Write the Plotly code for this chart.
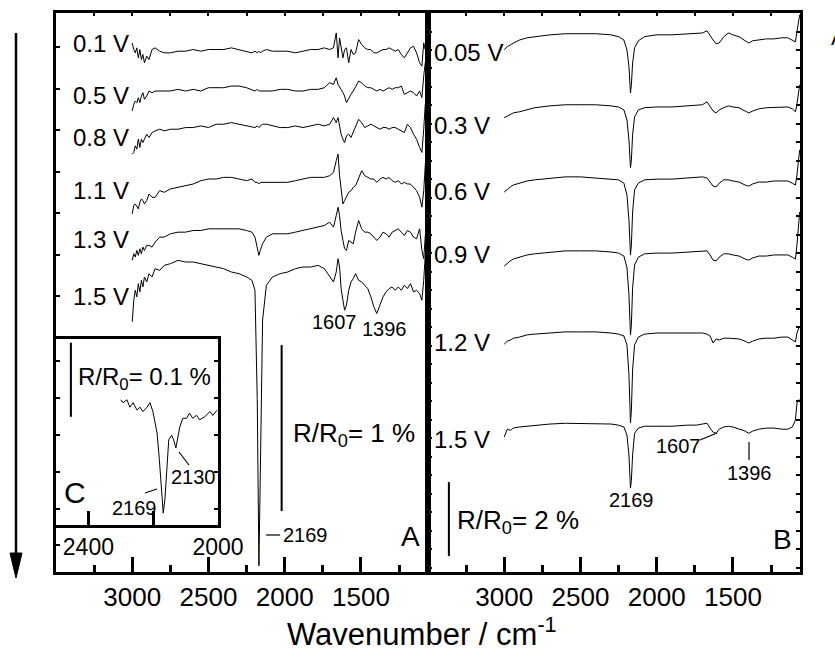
import plotly.graph_objects as go

W, H = 835, 668
FONT = "Liberation Sans, Arial, sans-serif"

# ---------------- data ----------------
# wavenumbers (cm-1)
WN_A = [3000, 2990, 2980, 2970, 2960, 2950, 2940, 2930, 2920, 2905,
        2890, 2870, 2850, 2820, 2790, 2750, 2700, 2650, 2600, 2550,
        2500, 2450, 2400, 2350, 2300, 2250, 2215, 2195, 2180, 2169,
        2160, 2145, 2120, 2080, 2030, 1980, 1930, 1880, 1830, 1780,
        1740, 1705, 1680, 1662, 1650, 1640, 1630, 1618, 1607, 1595,
        1580, 1565, 1550, 1535, 1515, 1495, 1475, 1455, 1435, 1415,
        1396, 1375, 1355, 1335, 1315, 1295, 1275, 1255, 1235, 1215,
        1195, 1175, 1155, 1135, 1115, 1100, 1088, 1078, 1068, 1062]

WN_B = [3000, 2980, 2960, 2940, 2900, 2850, 2800, 2700, 2600, 2500,
        2400, 2300, 2250, 2215, 2195, 2182, 2172, 2166, 2158, 2145,
        2120, 2080, 2000, 1900, 1800, 1740, 1700, 1670, 1650, 1630,
        1610, 1590, 1560, 1530, 1500, 1460, 1420, 1396, 1370, 1330,
        1280, 1230, 1180, 1140, 1110, 1090, 1080, 1070, 1062]

WN_C = [2300, 2293, 2281, 2272, 2262, 2250, 2241, 2232, 2219, 2210,
        2201, 2188, 2181, 2174, 2169, 2164, 2158, 2152, 2143, 2137,
        2130, 2125, 2118, 2109, 2097, 2088, 2078, 2066, 2057, 2041,
        2025, 2016, 2003]

POT_A = ["0.1 V", "0.5 V", "0.8 V", "1.1 V", "1.3 V", "1.5 V"]
POT_B = ["0.05 V", "0.3 V", "0.6 V", "0.9 V", "1.2 V", "1.5 V"]

# Delta R/R0 in units of 0.01 %
A_01 = [5, 1, -1, 2, -4, 1, -5, -2, -7, -3,
        -5, 1, 2, 0, -1, -1, 0, 0, 1, 0,
        1, 1, 1, 2, 1, 0, -1, 0, -1, 0,
        -1, 0, 1, 0, 0, 0, -1, 0, 1, 1,
        2, 1, 2, 11, -4, 8, 1, -4, 1, 2,
        -7, 1, -2, -1, 7, 4, 2, 1, 1, -1,
        -1, 0, 1, 1, 2, 1, 0, 1, -2, -4,
        -1, 2, 3, -1, -7, -9, 5, 1, 7, 9]
A_05 = [-13, -9, -7, -8, -5, -8, -4, -2, -6, -4,
        -1, -2, -1, -1, -1, -1, 0, -1, 0, -1,
        1, 1, 1, 2, 2, 1, 0, -1, 0, -1,
        -1, -1, -1, -1, 0, 0, -1, -1, 0, 0,
        1, 4, 3, 7, 3, 1, 0, -2, -4, -8,
        -5, -3, -1, 2, 5, 4, 2, 1, 1, 0,
        -1, 0, -1, 0, 1, 0, 1, 1, 2, -3,
        -2, -1, -2, -4, -1, -5, 8, 16, 20, 22]
A_08 = [-17, -16, -12, -14, -8, -13, -8, -10, -8, -5,
        -7, -4, -3, -2, -3, -2, -2, -1, -1, 0,
        -1, 1, 1, 2, 1, 0, -1, -1, 0, -1,
        0, 1, 1, 0, -1, -1, 0, -1, 0, 1,
        0, 1, 5, 2, 5, -1, -5, -8, -10, -6,
        -5, -7, -4, -1, 4, 2, -1, 0, 1, 0,
        -1, -2, -1, -1, -2, -1, -1, -2, -3, -4,
        1, -1, -5, -8, -13, -16, -2, 13, 19, 20]
A_11 = [-20, -15, -14, -16, -17, -13, -11, -12, -14, -12,
        -8, -10, -10, -6, -7, -5, -4, -3, -2, 0,
        1, 1, 2, 2, 1, 0, 1, -1, -1, -2,
        -1, -1, -1, -1, -1, -1, 0, 1, 2, 2,
        2, 3, 5, 12, 16, 3, -6, -14, -12, -10,
        -7, -6, -4, -3, 1, 6, 3, 2, 1, 1,
        -1, 1, 2, 1, 2, 0, -1, 0, -2, -1,
        -2, -2, -4, -6, -10, -16, -6, 12, 24, 27]
A_13 = [-18, -14, -16, -12, -15, -11, -14, -10, -12, -9,
        -9, -10, -7, -4, -4, -2, -1, -1, 0, 0,
        1, 1, 1, 1, 1, 0, -1, -4, -11, -15,
        -12, -8, -4, -2, -2, -2, -1, 0, 1, 2,
        3, 5, 2, 9, 14, 9, 0, -6, -11, -12,
        -6, -7, -8, -1, 6, 1, -1, -1, -2, -4,
        -6, -4, -1, -2, -4, -1, 0, 1, -1, -3,
        0, -1, -4, -5, 1, -12, -17, -3, 12, 18]
A_15 = [-34, -21, -15, -19, -11, -16, -9, -13, -7, -10,
        -5, -7, -2, -3, 0, 1, 3, 2, 2, 1,
        0, -1, -2, -4, -5, -7, -9, -15, -81, -181,
        -129, -33, -12, -7, -5, -4, -2, -1, -1, 0,
        -2, -7, -10, -4, 4, -1, -14, -21, -27, -24,
        -15, -10, -8, -5, -9, -10, -12, -14, -19, -25,
        -29, -24, -19, -16, -14, -13, -15, -13, -15, -12,
        -14, -11, -16, -15, -17, -21, -9, 6, 18, 22]
SPEC_A = [A_01, A_05, A_08, A_11, A_13, A_15]
OFFSET_A = [-23, -46, -68, -101, -131, -152]

B_005 = [-40, -32, -27, -22, -14, -8, -5, 0, 3, 3,
         3, 0, -5, -14, -41, -86, -157, -135, -76, -35,
         -16, -5, 0, 0, 3, 3, 5, 11, -3, -14,
         -24, -22, -5, 5, 0, -5, -16, -22, -16, -14,
         -11, -11, -8, -8, -14, -19, 8, 35, 54]
B_03 = [-32, -27, -24, -19, -16, -11, -5, 0, 3, 3,
        3, 0, -3, -11, -38, -92, -167, -146, -78, -30,
        -11, -5, -3, -3, 0, 0, 3, 11, 0, -14,
        -19, -11, -5, 0, -3, -5, -14, -19, -14, -8,
        -5, -5, -3, -3, -8, -16, 5, 38, 57]
B_06 = [-38, -30, -24, -19, -14, -8, -5, 0, 3, 3,
        0, -3, -5, -14, -46, -113, -208, -181, -92, -32,
        -14, -5, -3, -3, 0, 0, 3, 0, -11, -22,
        -24, -14, -5, -5, -8, -11, -19, -22, -16, -11,
        -11, -8, -8, -8, -14, -19, 8, 49, 76]
B_09 = [-38, -30, -24, -19, -14, -8, -5, 0, 3, 3,
        3, 0, -3, -11, -43, -116, -224, -197, -97, -35,
        -14, -5, -3, -3, 0, 0, 3, 3, -8, -22,
        -24, -14, -5, -5, -8, -11, -19, -22, -16, -11,
        -11, -8, -8, -8, -14, -19, 19, 73, 108]
B_12 = [-30, -22, -19, -14, -11, -5, -3, 0, 3, 3,
        3, 0, -3, -8, -32, -113, -243, -208, -100, -32,
        -11, -3, 0, 0, 0, 0, 0, -3, -8, -27,
        -16, -19, -14, -14, -14, -16, -22, -27, -22, -16,
        -14, -14, -11, -11, -19, -24, 0, 14, 19]
B_15 = [-32, -11, -14, -8, -5, -3, 0, 3, 5, 5,
        5, 3, 0, -5, -27, -81, -170, -149, -81, -22,
        -8, -3, -3, -3, 0, 0, 3, 5, -8, -19,
        -22, -11, -5, -3, -5, -11, -16, -22, -16, -11,
        -8, -8, -11, -11, -5, 14, 59, 68, 68]
SPEC_B = [B_005, B_03, B_06, B_09, B_12, B_15]
OFFSET_B = [-59, -251, -446, -646, -865, -1114]

C_VALS = [0.7, 0.3, 0.7, -0.3, 0.3, -0.7, -0.3, -0.9, -0.3, 0.3,
          -0.9, -3.8, -7.4, -11.9, -14.6, -12.8, -8.4, -4.7, -4.1, -4.7,
          -5.8, -4.7, -3.0, -1.8, -1.8, -1.1, -1.8, -1.4, -2.0, -1.6,
          -0.9, -1.4, -0.7]
OFFSET_C = -8.9

SCALE_A = 100   # 1 %
SCALE_B = 200   # 2 %
SCALE_C = 10    # 0.1 %

MAJOR = [3000, 2500, 2000, 1500]
MINOR = [3250, 2750, 2250, 1750, 1250]
TOPT = [3250, 3000, 2750, 2500, 2250, 2000, 1750, 1500, 1250]

# ---------------- figure ----------------
def fx(x):
    return x / W


def fy(y):
    return 1 - y / H


fig = go.Figure()
line = dict(color="black", width=1)
for vals, off in zip(SPEC_A, OFFSET_A):
    fig.add_trace(go.Scatter(x=WN_A, y=[v + off for v in vals], mode="lines",
                             line=line, xaxis="x", yaxis="y", showlegend=False))
for vals, off in zip(SPEC_B, OFFSET_B):
    fig.add_trace(go.Scatter(x=WN_B, y=[v + off for v in vals], mode="lines",
                             line=line, xaxis="x2", yaxis="y2", showlegend=False))
fig.add_trace(go.Scatter(x=WN_C, y=[v + OFFSET_C for v in C_VALS], mode="lines",
                         line=line, xaxis="x3", yaxis="y3", showlegend=False))
# empty traces so top tick axes get drawn
fig.add_trace(go.Scatter(x=[], y=[], xaxis="x4", yaxis="y", showlegend=False))
fig.add_trace(go.Scatter(x=[], y=[], xaxis="x5", yaxis="y2", showlegend=False))

YDOM = [fy(572), fy(13)]
tickfont = dict(size=26, family=FONT, color="black")


def main_x(dom, anchor):
    return dict(domain=dom, anchor=anchor, range=[3500, 1060], showline=True,
                linewidth=2.5, linecolor="black", mirror=True, ticks="inside",
                ticklen=15, tickwidth=2.5, tickcolor="black", tickvals=MAJOR,
                ticktext=[str(v) for v in MAJOR], tickfont=tickfont,
                ticklabelstandoff=0,
                minor=dict(ticks="inside", ticklen=7, tickwidth=2.5,
                           tickcolor="black", tickvals=MINOR),
                showgrid=False, zeroline=False)


def top_x(overlay, anchor):
    return dict(overlaying=overlay, anchor=anchor, side="top", range=[3500, 1060],
                showline=False, ticks="inside", ticklen=3, tickwidth=2,
                tickcolor="black", tickvals=TOPT, showticklabels=False,
                showgrid=False, zeroline=False)


fig.update_layout(
    width=W, height=H, margin=dict(l=0, r=0, t=0, b=0, autoexpand=False),
    paper_bgcolor="white", plot_bgcolor="white",
    font=dict(family=FONT, color="black"),
    xaxis=main_x([fx(56), fx(428)], "y"),
    xaxis2=main_x([fx(428), fx(800)], "y2"),
    xaxis4=top_x("x", "y"),
    xaxis5=top_x("x2", "y2"),
    yaxis=dict(domain=YDOM, anchor="x", range=[-336.7, 0], showline=True,
               linewidth=2.5, linecolor="black", mirror=True, ticks="inside",
               ticklen=4, tickwidth=2, tickcolor="black", tick0=-20.5, dtick=25,
               showticklabels=False, showgrid=False, zeroline=False),
    yaxis2=dict(domain=YDOM, anchor="x2", range=[-1511, 0], showline=True,
                linewidth=2.5, linecolor="black", mirror="ticks", ticks="inside",
                ticklen=4, tickwidth=2, tickcolor="black", tick0=0, dtick=50,
                showticklabels=False, showgrid=False, zeroline=False),
    xaxis3=dict(domain=[fx(56), fx(218)], anchor="y3", range=[2500, 2000],
                showline=True, linewidth=2.5, linecolor="black", mirror=True,
                ticks="inside", ticklen=14, tickwidth=2.5, tickcolor="black",
                tickvals=[2400, 2200, 2000], ticktext=["2400", "", "2000"],
                tickfont=dict(size=23, family=FONT, color="black"),
                ticklabelstandoff=0, showgrid=False, zeroline=False),
    yaxis3=dict(domain=[fy(525), fy(339)], anchor="x3", range=[-25.1, 0],
                showline=True, linewidth=2.5, linecolor="black", mirror="ticks",
                ticks="inside", ticklen=4, tickwidth=2, tickcolor="black",
                tick0=-3, dtick=5, showticklabels=False, showgrid=False,
                zeroline=False),
)

shapes = []
# thick divider between panels
shapes.append(dict(type="line", xref="paper", yref="paper", x0=fx(427.5), x1=fx(427.5),
                   y0=fy(572), y1=fy(13), line=dict(color="black", width=4)))
# scale bars
shapes.append(dict(type="line", xref="x", yref="y", x0=2020, x1=2020,
                   y0=-300, y1=-300 + SCALE_A, line=dict(color="black", width=2)))
shapes.append(dict(type="line", xref="x2", yref="y2", x0=3363, x1=3363,
                   y0=-1468, y1=-1468 + SCALE_B, line=dict(color="black", width=2)))
shapes.append(dict(type="line", xref="x3", yref="y3", x0=2454, x1=2454,
                   y0=-10.5, y1=-10.5 + SCALE_C, line=dict(color="black", width=2)))


def seg(x0, y0, x1, y1, w=1.2):
    return dict(type="line", xref="paper", yref="paper", x0=fx(x0), y0=fy(y0),
                x1=fx(x1), y1=fy(y1), line=dict(color="black", width=w))


# leader lines
shapes += [seg(266, 535, 280, 535), seg(145, 493, 157, 489), seg(179, 452, 189, 465),
           seg(700, 440, 717, 433), seg(749, 442, 749, 460)]
# arrow on the left
shapes.append(seg(16, 33, 16, 556, 2.5))
shapes.append(dict(type="path", xref="paper", yref="paper",
                   path=f"M {fx(10)} {fy(553)} L {fx(22)} {fy(553)} L {fx(16)} {fy(578)} Z",
                   fillcolor="black", line=dict(color="black", width=1)))
fig.update_layout(shapes=shapes)


def label(text, x, y, size, xanchor="left", yanchor="middle"):
    return dict(text=text, x=fx(x), y=fy(y), xref="paper", yref="paper",
                showarrow=False, xanchor=xanchor, yanchor=yanchor,
                font=dict(size=size, family=FONT, color="black"))


ann = []
for t, y in zip(POT_A, [44, 95, 137, 190, 240, 297]):
    ann.append(label(t, 71, y, 24))
for t, y in zip(POT_B, [52, 125, 191, 255, 342, 439]):
    ann.append(label(t, 432, y, 24))
ann += [
    label("1607", 334, 322, 20, "center"),
    label("1396", 384, 329, 20, "center"),
    label("R/R<sub>0</sub>= 1 %", 291, 434, 26),
    label("2169", 305, 535, 20, "center"),
    label("A", 410, 536, 28, "center"),
    label("R/R<sub>0</sub>= 0.1 %", 76, 378, 24),
    label("2169", 134, 508, 20, "center"),
    label("2130", 193, 477, 20, "center"),
    label("C", 75, 492, 30, "center"),
    label("2169", 631, 500, 20, "center"),
    label("1607", 678, 446, 20, "center"),
    label("1396", 749, 473, 20, "center"),
    label("R/R<sub>0</sub>= 2 %", 455, 521, 26),
    label("B", 782, 539, 28, "center"),
    label("Wavenumber / cm<sup>-1</sup>", 422, 632, 31, "center"),
    label("A", 829, 38, 22),
]
fig.update_layout(annotations=ann)

fig.write_html("out.html")
